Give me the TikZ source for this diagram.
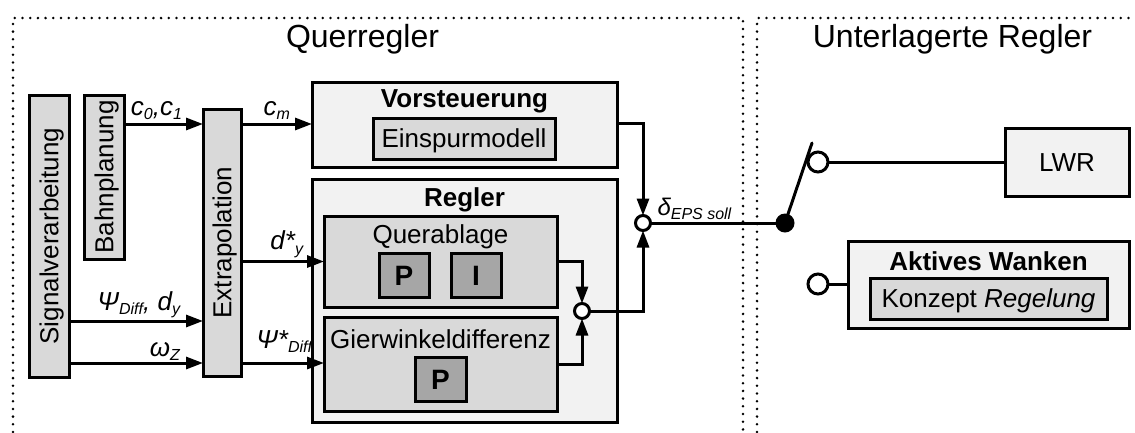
\documentclass[tikz,border=0pt]{standalone}
\usepackage{fontspec}
\setmainfont{Liberation Sans}
\usetikzlibrary{arrows.meta,calc}

\definecolor{fillouter}{HTML}{F2F2F2}
\definecolor{fillinner}{HTML}{D9D9D9}
\definecolor{filldark}{HTML}{A6A6A6}

\newcommand\fs[1]{\fontsize{#1}{#1}\selectfont}
\newcommand\lowix[1]{\raisebox{-4.5pt}{\fs{16}\itshape #1}}

\begin{document}
\begin{tikzpicture}[x=1pt,y=-1pt,
  every node/.style={inner sep=0pt, outer sep=0pt},
  frame/.style={line width=2.8pt, dash pattern=on 0pt off 7.7pt, line cap=round},
  blk/.style={draw, line width=3pt, rectangle},
  outerblk/.style={blk, fill=fillouter},
  innerblk/.style={blk, fill=fillinner},
  darkblk/.style={blk, fill=filldark},
  title/.style={font=\fs{32}, anchor=base},
  body/.style={font=\fs{26}, text height=18.6pt, text depth=0pt},
  head/.style={font=\fs{26}\bfseries, anchor=base},
  pbox/.style={darkblk, font=\fs{28}\bfseries, text height=20pt, text depth=0pt,
    minimum width=50pt, minimum height=44pt},
  lbl/.style={font=\fs{26}\itshape, anchor=base east},
  conn/.style={line width=3pt},
  arr/.style={conn, -{Triangle[length=17pt,width=12pt]}},
  sumpt/.style={circle, draw, line width=3pt, fill=white, minimum size=15pt},
  contact/.style={circle, draw, line width=3pt, fill=white, minimum size=20pt},
]
\useasboundingbox (0,0) rectangle (1135,432);

% dotted frames of the two controller groups
\draw[frame] (13,432) -- (13,18) -- (743,18) -- (743,432);
\draw[frame] (757,432) -- (757,18) -- (1135,18);
\node[title] (tquer) at (362.5,47) {Querregler};
\node[title] (tunter) at (952.5,47) {Unterlagerte Regler};

% signal processing, path planning, extrapolation
\node[innerblk, minimum width=40pt, minimum height=282pt] (sig) at (49,236) {};
\node[body, rotate=90] (sigt) at (sig.center) {Signalverarbeitung};
\node[innerblk, minimum width=40pt, minimum height=164pt] (bahn) at (104,177) {};
\node[body, rotate=90] (bahnt) at (bahn.center) {Bahnplanung};
\node[innerblk, minimum width=38pt, minimum height=267pt] (extra) at (222,242.5) {};
\node[body, rotate=90] (extrat) at (extra.center) {Extrapolation};

% feedforward
\node[outerblk, minimum width=305pt, minimum height=85pt] (vor) at (464.5,124.5) {};
\node[head] (vort) at ($(vor.north)+(0,25)$) {Vorsteuerung};
\node[innerblk, body, minimum width=182pt, minimum height=41pt] (einsp) at (464,138.5) {Einspurmodell};

% feedback controller
\node[outerblk, minimum width=305pt, minimum height=243pt] (regler) at (464.5,300.5) {};
\node[head] (reglert) at ($(regler.north)+(0,27)$) {Regler};
\node[innerblk, minimum width=233pt, minimum height=91pt] (quer) at (440.5,261.5) {};
\node[font=\fs{26}, anchor=base] (quert) at ($(quer.north)+(0,27)$) {Querablage};
\node[pbox] (p1) at (404,275) {P};
\node[pbox] (i1) at (476,275) {I};
\node[innerblk, minimum width=233pt, minimum height=94pt] (gier) at (440.5,364) {};
\node[font=\fs{26}, anchor=base] (giert) at ($(gier.north)+(0,31)$) {Gierwinkeldifferenz};
\node[pbox, minimum width=51pt] (p2) at (440.5,379) {P};

% summing points, switch
\node[sumpt] (sum1) at (582,311) {};
\node[sumpt] (sum2) at (643,223) {};
\node[circle, fill=black, minimum size=19pt] (pivot) at (785,223) {};
\coordinate (swend) at (812,143);
\node[contact] (c1) at (818,162) {};
\node[contact] (c2) at (818,284) {};

% lower-level controllers
\node[outerblk, body, minimum width=124pt, minimum height=68pt] (lwr) at (1067,162) {LWR};
\node[outerblk, minimum width=281pt, minimum height=87pt] (aktiv) at (988.5,284.5) {};
\node[head] (aktivt) at ($(aktiv.north)+(0,29)$) {Aktives Wanken};
\node[innerblk, body, minimum width=237pt, minimum height=41pt] (konz) at (988.5,298.5) {Konzept \textit{Regelung}};

% signal levels
\coordinate (yc) at (0,124);
\coordinate (yv) at (0,123);
\coordinate (ypsi) at (0,321);
\coordinate (yom) at (0,363);
\coordinate (ydy) at (0,261.5);

% connectors
\draw[arr] (bahn.east |- yc) -- (extra.west |- yc);
\node[lbl] (lc01) at ($(extra.west |- yc)+(-21,-9)$) {c\lowix{0},c\lowix{1}};
\draw[arr] (extra.east |- yc) -- (vor.west |- yc);
\node[lbl] (lcm) at ($(vor.west |- yc)+(-22,-9)$) {c\lowix{m}};
\draw[arr] (sig.east |- ypsi) -- (extra.west |- ypsi);
\node[lbl] (lpsi) at ($(extra.west |- ypsi)+(-23,-11)$) {Ψ\lowix{Diff}, d\lowix{y}};
\draw[arr] (sig.east |- yom) -- (extra.west |- yom);
\node[lbl] (lom) at ($(extra.west |- yom)+(-23,-7)$) {ω\lowix{Z}};
\draw[arr] (extra.east |- ydy) -- (quer.west);
\node[lbl] (ldy) at ($(quer.west)+(-21,-12)$) {d*\lowix{y}};
\draw[arr] (extra.east |- yom) -- (gier.west |- yom);
\node[lbl] (lpsis) at ($(gier.west |- yom)+(-12,-15)$) {Ψ*\lowix{Diff}};

\draw[arr] (quer.east) -| (sum1.north);
\draw[arr] (gier.east) -| (sum1.south);
\draw[arr] (sum1.east) -| (sum2.south);
\draw[arr] (vor.east |- yv) -| (sum2.north);
\draw[conn] (sum2.east) -- (pivot.center);
\node[font=\fs{24}\itshape, anchor=base west] (ldelta) at ($(sum2.east)+(7,-8)$) {δ\lowix{EPS soll}};

\draw[conn] (c1.east) -- (lwr.west);
\draw[conn] (c2.east) -- (aktiv.west |- c2);
\draw[conn, line cap=round] (pivot.center) -- (swend);
\end{tikzpicture}
\end{document}
